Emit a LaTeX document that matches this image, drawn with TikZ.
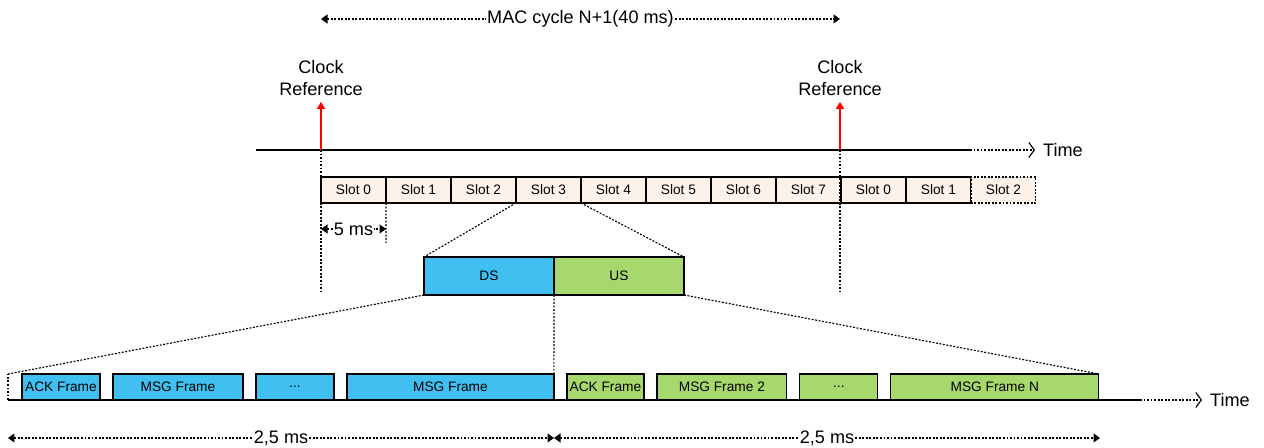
\documentclass[tikz,border=0pt]{standalone}
\usepackage{fontspec}
\setmainfont{Liberation Sans}
\usepackage{xcolor}
\usepackage{tikz}
\usetikzlibrary{arrows.meta,positioning}
\definecolor{slotfill}{HTML}{FDF2EA}
\definecolor{dsblue}{HTML}{40C0F0}
\definecolor{usgreen}{HTML}{A6D86E}

\begin{document}
\begin{tikzpicture}[x=0.02cm, y=-0.02cm, every node/.style={font=\fontsize{10.3}{12.5}\selectfont},
  slotbox/.style={draw,line width=0.7pt,fill=slotfill,outer sep=0pt,inner sep=0pt,minimum width=1.3cm,minimum height=0.52cm,font=\fontsize{7.8}{9}\selectfont},
  halfbox/.style={draw,line width=0.7pt,outer sep=0pt,inner sep=0pt,minimum width=2.6cm,minimum height=0.76cm,font=\fontsize{7.8}{9}\selectfont},
  framebox/.style={draw,line width=0.7pt,outer sep=0pt,inner sep=0pt,minimum height=0.52cm,font=\fontsize{7.8}{9}\selectfont},
  dotline/.style={dash pattern=on 1.1pt off 0.9pt,line width=0.65pt},
  spanarrow/.style={dash pattern=on 1.1pt off 0.9pt,line width=0.6pt,{Triangle[length=1.3mm,width=1.8mm]}-{Triangle[length=1.3mm,width=1.8mm]}},
  timetail/.style={dash pattern=on 1.1pt off 0.9pt,line width=0.65pt,-{Straight Barb[length=1.1mm,width=3mm]}},
  clkarrow/.style={red,line width=0.7pt,-{Triangle[length=1.4mm,width=1.6mm]}}]
\useasboundingbox (0,0) rectangle (1264,448);

% upper time axis
\coordinate (ta) at (256,150);
\coordinate (tb) at (970,150);
\coordinate (tc) at (1035,150);
\draw[line width=0.6pt] (ta) -- (tb);
\draw[timetail] (tb) -- (tc);
\node[right=0.4mm of tc] (time1) {Time};

% slots of the MAC cycle
\node[slotbox] (s0) at (353.5,190) {Slot 0};
\node[slotbox, right=0pt of s0] (s1) {Slot 1};
\node[slotbox, right=0pt of s1] (s2) {Slot 2};
\node[slotbox, right=0pt of s2] (s3) {Slot 3};
\node[slotbox, right=0pt of s3] (s4) {Slot 4};
\node[slotbox, right=0pt of s4] (s5) {Slot 5};
\node[slotbox, right=0pt of s5] (s6) {Slot 6};
\node[slotbox, right=0pt of s6] (s7) {Slot 7};
\node[slotbox, right=0pt of s7] (s8) {Slot 0};
\node[slotbox, right=0pt of s8] (s9) {Slot 1};
\node[slotbox, dash pattern=on 1.1pt off 0.9pt, right=0pt of s9] (s10) {Slot 2};

% clock references
\node[align=center] (clk1) at (321,78) {Clock\\Reference};
\node[align=center] (clk2) at (840,78) {Clock\\Reference};
\draw[clkarrow] (clk1.south |- ta) -- (clk1.south);
\draw[clkarrow] (clk2.south |- ta) -- (clk2.south);

% cycle length
\coordinate (maca) at (321,19);
\coordinate (macb) at (840,19);
\draw[spanarrow] (maca) -- node[fill=white,inner sep=0.5pt] (maclbl) {MAC cycle N+1(40 ms)} (macb);

% guides below the clock references
\coordinate (g1) at (321,293);
\coordinate (g2) at (840,293);
\coordinate (g3) at (386,243);
\draw[dotline] (clk1.south |- ta) -- (g1);
\draw[dotline] (clk2.south |- ta) -- (g2);
\draw[dotline] (s1.south west) -- (g3);

% slot length
\coordinate (sa) at (321,229);
\coordinate (sb) at (386,229);
\draw[spanarrow] (sa) -- node[fill=white,inner sep=0.3pt] (slotlbl) {5 ms} (sb);

% slot 3 split into DS and US
\node[halfbox, fill=dsblue] (ds) at (489,276) {DS};
\node[halfbox, fill=usgreen, right=0pt of ds] (us) {US};
\draw[dotline] (s3.south west) -- (ds.north west);
\draw[dotline] (s3.south east) -- (us.north east);

% lower time axis
\coordinate (la) at (8,400);
\coordinate (lb) at (1140,400);
\coordinate (lc) at (1202,400);
\coordinate (lt) at (8,374);
\draw[line width=0.6pt] (la) -- (lb);
\draw[timetail] (lb) -- (lc);
\node[right=0.4mm of lc] (time2) {Time};
\draw[dotline] (la) -- (lt);

% frames inside DS and US
\node[framebox, fill=dsblue, minimum width=1.56cm] (f1) at (61,387) {ACK Frame};
\node[framebox, fill=dsblue, minimum width=2.6cm, right=0.26cm of f1] (f2) {MSG Frame};
\node[framebox, fill=dsblue, minimum width=1.56cm, right=0.26cm of f2] (f3) {...};
\node[framebox, fill=dsblue, minimum width=4.14cm, right=0.26cm of f3] (f4) {MSG Frame};
\node[framebox, fill=usgreen, minimum width=1.54cm, right=0.26cm of f4] (f5) {ACK Frame};
\node[framebox, fill=usgreen, minimum width=2.6cm, right=0.26cm of f5] (f6) {MSG Frame 2};
\node[framebox, fill=usgreen, minimum width=1.56cm, right=0.26cm of f6] (f7) {...};
\node[framebox, fill=usgreen, minimum width=4.16cm, right=0.26cm of f7] (f8) {MSG Frame N};
\draw[dotline] (ds.south west) -- (lt);
\draw[dotline] (ds.south east) -- (f4.north east);
\draw[dotline] (us.south east) -- (f8.north east);

% DS and US lengths
\coordinate (da) at (8,438);
\coordinate (db) at (554,438);
\coordinate (dc) at (1100,438);
\draw[spanarrow] (da) -- node[fill=white,inner sep=0.5pt] (dslbl) {2,5 ms} (db);
\draw[spanarrow] (db) -- node[fill=white,inner sep=0.5pt] (uslbl) {2,5 ms} (dc);
\end{tikzpicture}
\end{document}
